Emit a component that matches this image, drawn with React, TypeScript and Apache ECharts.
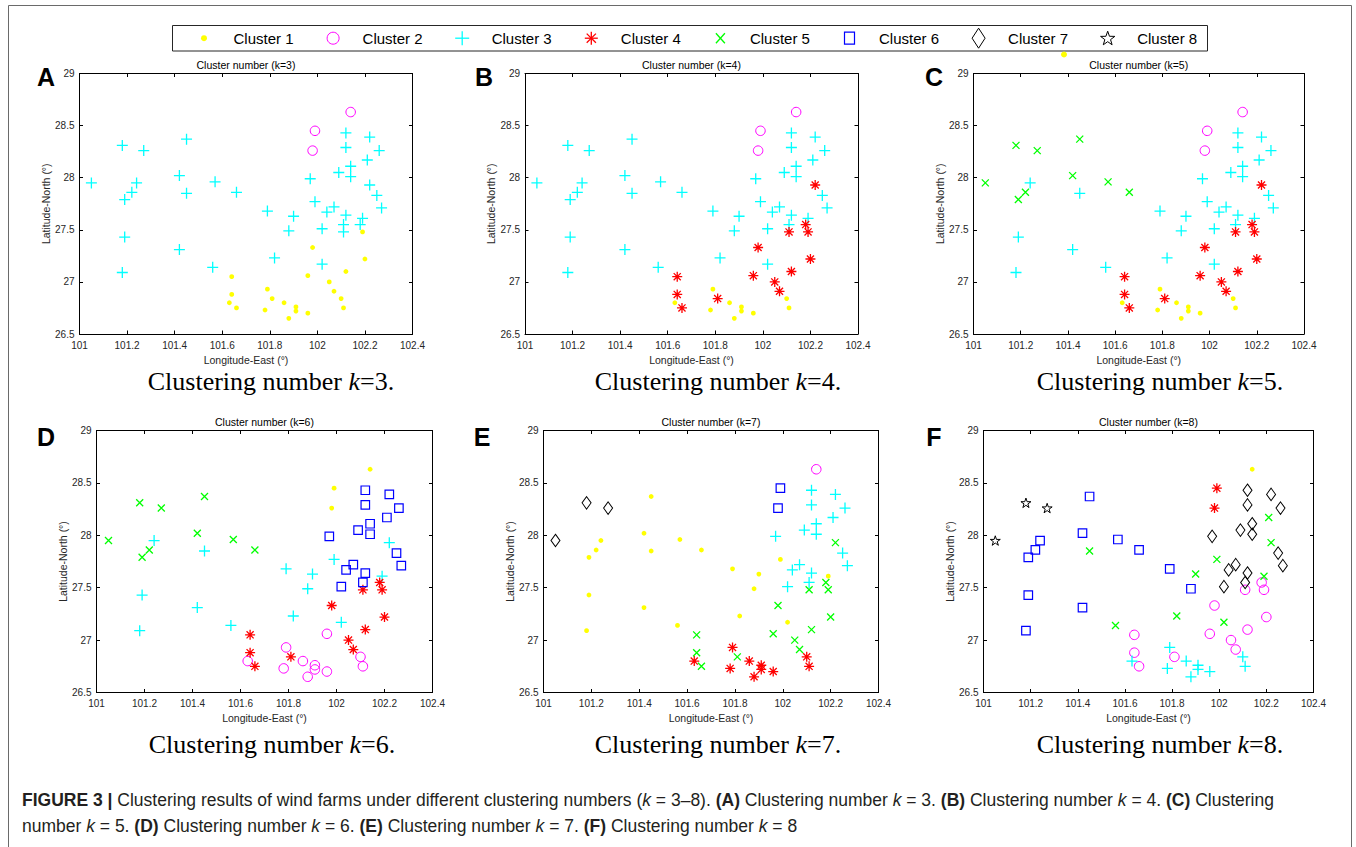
import React, { useEffect, useRef } from 'react';
import * as echarts from 'echarts';

// ---- data: wind farm coordinates (same farms in every panel) ----
const longitudes = [
  101.05, 101.18, 101.27, 101.19, 101.22, 101.24, 101.19, 101.18, 101.42, 101.45,
  101.45, 101.42, 101.57, 101.56, 101.66, 101.79, 101.82, 101.88, 101.9, 101.97,
  101.99, 102.02, 102.02, 102.04, 102.07, 102.09, 102.12, 102.12, 102.14, 102.14,
  102.12, 102.11, 102.11, 102.18, 102.19, 102.21, 102.22, 102.22, 102.25, 102.26,
  102.27, 102.14, 101.99, 101.98, 102.19, 101.98, 102.2, 102.12, 101.96, 101.64,
  102.05, 102.07, 101.79, 101.64, 101.81, 102.1, 101.63, 101.86, 101.66, 102.11,
  101.91, 101.91, 101.78, 101.96, 101.88,
];
const latitudes = [
  27.95, 28.31, 28.26, 27.79, 27.86, 27.95, 27.43, 27.09, 28.02, 28.37,
  27.85, 27.31, 27.96, 27.14, 27.86, 27.68, 27.23, 27.49, 27.63, 27.99,
  27.77, 27.17, 27.51, 27.67, 27.72, 28.05, 28.43, 28.29, 28.11, 28.01,
  27.64, 27.55, 27.48, 27.55, 27.61, 28.17, 28.39, 27.93, 27.83, 28.26,
  27.71, 28.63, 28.45, 28.26, 27.48, 27.33, 27.22, 27.1, 27.06, 27.05,
  27.0, 26.91, 26.93, 26.88, 26.84, 26.84, 26.8, 26.8, 26.75, 26.75,
  26.76, 26.72, 26.73, 26.7, 26.65,
];

// ---- cluster labels per clustering number ----
const clustersK3 = [
  3, 3, 3, 3, 3, 3, 3, 3, 3, 3,
  3, 3, 3, 3, 3, 3, 3, 3, 3, 3,
  3, 3, 3, 3, 3, 3, 3, 3, 3, 3,
  3, 3, 3, 3, 3, 3, 3, 3, 3, 3,
  3, 2, 2, 2, 1, 1, 1, 1, 1, 1,
  1, 1, 1, 1, 1, 1, 1, 1, 1, 1,
  1, 1, 1, 1, 1,
];
const clustersK4 = [
  3, 3, 3, 3, 3, 3, 3, 3, 3, 3,
  3, 3, 3, 3, 3, 3, 3, 3, 3, 3,
  3, 3, 3, 3, 3, 3, 3, 3, 3, 3,
  3, 3, 4, 4, 3, 3, 3, 4, 3, 3,
  3, 2, 2, 2, 4, 4, 4, 4, 4, 4,
  4, 4, 1, 4, 4, 1, 1, 1, 4, 1,
  1, 1, 1, 1, 1,
];
const clustersK5 = [
  5, 5, 5, 5, 5, 3, 3, 3, 5, 5,
  3, 3, 5, 3, 5, 3, 3, 3, 3, 3,
  3, 3, 3, 3, 3, 3, 3, 3, 3, 3,
  3, 3, 4, 4, 3, 3, 3, 4, 3, 3,
  3, 2, 2, 2, 4, 4, 4, 4, 4, 4,
  4, 4, 1, 4, 4, 1, 1, 1, 4, 1,
  1, 1, 1, 1, 1,
];
const clustersK6 = [
  5, 5, 5, 5, 5, 3, 3, 3, 5, 5,
  3, 3, 5, 3, 5, 3, 3, 3, 3, 6,
  3, 3, 6, 6, 6, 6, 6, 6, 6, 6,
  6, 6, 4, 4, 3, 6, 6, 3, 6, 6,
  6, 1, 1, 1, 4, 4, 4, 4, 2, 4,
  4, 4, 2, 4, 4, 2, 2, 2, 4, 2,
  2, 2, 2, 2, 2,
];
const clustersK7 = [
  7, 7, 7, 1, 1, 1, 1, 1, 1, 1,
  1, 1, 1, 1, 1, 1, 1, 1, 1, 3,
  1, 1, 3, 3, 3, 3, 3, 3, 3, 3,
  3, 3, 5, 5, 1, 3, 3, 5, 3, 3,
  3, 2, 6, 6, 5, 5, 5, 5, 5, 5,
  5, 5, 4, 5, 5, 4, 4, 4, 5, 4,
  4, 4, 4, 4, 4,
];
const clustersK8 = [
  8, 8, 8, 6, 6, 6, 6, 6, 6, 6,
  5, 6, 6, 5, 6, 6, 5, 6, 5, 7,
  5, 5, 7, 7, 7, 7, 7, 7, 7, 7,
  7, 7, 2, 2, 5, 5, 7, 5, 7, 7,
  7, 1, 4, 4, 2, 2, 2, 2, 2, 2,
  2, 2, 3, 2, 2, 3, 3, 3, 2, 3,
  3, 3, 3, 3, 3,
];

const kValues = [3, 4, 5, 6, 7, 8];
const panelLetters = ['A', 'B', 'C', 'D', 'E', 'F'];
const clusterNames = ['Cluster 1', 'Cluster 2', 'Cluster 3', 'Cluster 4', 'Cluster 5', 'Cluster 6', 'Cluster 7', 'Cluster 8'];
const X_MIN = 101;
const X_MAX = 102.4;
const X_STEP = 0.2;
const Y_MIN = 26.5;
const Y_MAX = 29;
const Y_STEP = 0.5;
const X_NAME = 'Longitude-East (°)';
const Y_NAME = 'Latitude-North (°)';

const clusterSets = [clustersK3, clustersK4, clustersK5, clustersK6, clustersK7, clustersK8];

// ---- layout ----
const GRIDS = [
  { left: 79.5, top: 73.5, width: 333, height: 260.5 },
  { left: 525, top: 73.5, width: 333, height: 260.5 },
  { left: 973.5, top: 73.5, width: 330.5, height: 260.5 },
  { left: 96.5, top: 430.5, width: 336, height: 262 },
  { left: 543.5, top: 430.5, width: 335, height: 262 },
  { left: 983.5, top: 430.5, width: 330, height: 262 },
];
const LETTER_POS = [
  [46, 77], [484, 77], [934, 77],
  [46, 437], [482, 437], [934, 437],
];
const CAPTION_POS = [
  [271, 381.5], [718, 381.5], [1160, 381.5],
  [272, 744.5], [718, 744.5], [1160, 744.5],
];

const FONT = '"Liberation Sans", Arial, Helvetica, sans-serif';
const SERIF = '"Liberation Serif", "Times New Roman", serif';
const AXIS_COLOR = '#262626';

const PLUS = 'path://M5,0L5,10M0,5L10,5';
const CROSS = 'path://M0,0L10,10M0,10L10,0';
const ASTER = 'path://M5,0L5,10M0,5L10,5M1.46,1.46L8.54,8.54M1.46,8.54L8.54,1.46';
const STAR = 'path://M10,0L12.245,6.91L19.511,6.91L13.633,11.18L15.878,18.09L10,13.82L4.122,18.09L6.367,11.18L0.489,6.91L7.755,6.91Z';

const MARKERS: Record<number, any> = {
  1: { symbol: 'circle', size: 4.8, color: '#ffff00', filled: true },
  2: { symbol: 'circle', size: 9.5, color: '#ff00ff', lw: 1 },
  3: { symbol: PLUS, size: 11, color: '#00ffff', lw: 1.3 },
  4: { symbol: ASTER, size: 10, color: '#ff0000', lw: 1.3 },
  5: { symbol: CROSS, size: 7, color: '#00ff00', lw: 1.3 },
  6: { symbol: 'rect', size: 8.5, color: '#0000ff', lw: 1.2 },
  7: { symbol: 'diamond', size: [9, 12.5], color: '#000000', lw: 1 },
  8: { symbol: STAR, size: 10, color: '#000000', lw: 1 },
};

const fmt = (v: number) => String(Math.round(v * 10) / 10);

function starPoints(cx: number, cy: number, R: number, r: number) {
  const pts: number[][] = [];
  for (let i = 0; i < 10; i++) {
    const a = (-90 + 36 * i) * Math.PI / 180;
    const rad = i % 2 === 0 ? R : r;
    pts.push([cx + rad * Math.cos(a), cy + rad * Math.sin(a)]);
  }
  return pts;
}

function legendGraphics() {
  const els: any[] = [];
  els.push({
    type: 'rect', shape: { x: 172.5, y: 25.5, width: 1035, height: 25.5 },
    style: { fill: '#ffffff', stroke: '#262626', lineWidth: 1 }, z: 10,
  });
  const cy = 38.2;
  clusterNames.forEach((name, i) => {
    const sx = 204 + i * 129.1;
    const c = i + 1;
    const m = MARKERS[c];
    const line = (x1: number, y1: number, x2: number, y2: number) => ({
      type: 'line', shape: { x1, y1, x2, y2 }, style: { stroke: m.color, lineWidth: 1.3 }, z: 11,
    });
    if (c === 1) {
      els.push({ type: 'circle', shape: { cx: sx, cy, r: 3 }, style: { fill: m.color }, z: 11 });
    } else if (c === 2) {
      els.push({ type: 'circle', shape: { cx: sx, cy, r: 6 }, style: { fill: 'none', stroke: m.color, lineWidth: 1 }, z: 11 });
    } else if (c === 3) {
      els.push(line(sx - 7, cy, sx + 7, cy), line(sx, cy - 7, sx, cy + 7));
    } else if (c === 4) {
      const d = 4.6;
      els.push(line(sx - 6.5, cy, sx + 6.5, cy), line(sx, cy - 6.5, sx, cy + 6.5), line(sx - d, cy - d, sx + d, cy + d), line(sx - d, cy + d, sx + d, cy - d));
    } else if (c === 5) {
      els.push(line(sx - 4.5, cy - 5, sx + 4.5, cy + 5), line(sx - 4.5, cy + 5, sx + 4.5, cy - 5));
    } else if (c === 6) {
      els.push({ type: 'rect', shape: { x: sx - 5, y: cy - 6, width: 10, height: 12 }, style: { fill: 'none', stroke: m.color, lineWidth: 1.2 }, z: 11 });
    } else if (c === 7) {
      els.push({ type: 'polygon', shape: { points: [[sx, cy - 10], [sx + 6.5, cy], [sx, cy + 10], [sx - 6.5, cy]] }, style: { fill: 'none', stroke: m.color, lineWidth: 1 }, z: 11 });
    } else {
      els.push({ type: 'polygon', shape: { points: starPoints(sx, cy + 0.5, 7.5, 3) }, style: { fill: 'none', stroke: m.color, lineWidth: 1 }, z: 11 });
    }
    els.push({
      type: 'text', z: 11,
      style: {
        text: name, x: sx + 29.5, y: cy, fontSize: 15, fontFamily: FONT, fill: '#000000',
        align: 'left', textAlign: 'left', verticalAlign: 'middle', textVerticalAlign: 'middle',
      },
    });
  });
  return els;
}

function buildOption() {
  const xAxis: any[] = [];
  const yAxis: any[] = [];
  const lineStyle = { color: '#000000', width: 1 };
  const tick = { show: true, inside: true, length: 3.5, lineStyle };
  GRIDS.forEach((_, p) => {
    xAxis.push({
      type: 'value', gridIndex: p, position: 'bottom', min: X_MIN, max: X_MAX, interval: X_STEP,
      name: X_NAME, nameLocation: 'middle', nameGap: 20,
      nameTextStyle: { fontSize: 10.5, color: AXIS_COLOR, fontFamily: FONT },
      axisLine: { show: true, onZero: false, lineStyle }, axisTick: tick,
      axisLabel: { show: true, margin: 6, fontSize: 10, color: AXIS_COLOR, fontFamily: FONT, formatter: fmt },
      splitLine: { show: false },
    });
    yAxis.push({
      type: 'value', gridIndex: p, position: 'left', min: Y_MIN, max: Y_MAX, interval: Y_STEP,
      name: Y_NAME, nameLocation: 'middle', nameGap: 28, nameRotate: 90,
      nameTextStyle: { fontSize: 10.5, color: AXIS_COLOR, fontFamily: FONT },
      axisLine: { show: true, onZero: false, lineStyle }, axisTick: tick,
      axisLabel: { show: true, margin: 5, fontSize: 10, color: AXIS_COLOR, fontFamily: FONT, formatter: fmt },
      splitLine: { show: false },
    });
  });
  GRIDS.forEach((_, p) => {
    xAxis.push({
      type: 'value', gridIndex: p, position: 'top', min: X_MIN, max: X_MAX, interval: X_STEP,
      axisLine: { show: true, onZero: false, lineStyle }, axisTick: tick,
      axisLabel: { show: false }, splitLine: { show: false },
    });
    yAxis.push({
      type: 'value', gridIndex: p, position: 'right', min: Y_MIN, max: Y_MAX, interval: Y_STEP,
      axisLine: { show: true, onZero: false, lineStyle }, axisTick: tick,
      axisLabel: { show: false }, splitLine: { show: false },
    });
  });

  const series: any[] = [];
  clusterSets.forEach((labels, p) => {
    for (let c = 1; c <= 8; c++) {
      const data: number[][] = [];
      labels.forEach((l, i) => { if (l === c) data.push([longitudes[i], latitudes[i]]); });
      if (!data.length) continue;
      const m = MARKERS[c];
      series.push({
        type: 'scatter', name: clusterNames[c - 1], xAxisIndex: p, yAxisIndex: p, data,
        symbol: m.symbol, symbolSize: m.size, symbolKeepAspect: c === 8,
        itemStyle: m.filled
          ? { color: m.color, opacity: 1 }
          : { color: 'transparent', borderColor: m.color, borderWidth: m.lw, opacity: 1 },
        emphasis: { disabled: true }, silent: true,
      });
    }
  });

  const graphic: any[] = [];
  // outer frame
  graphic.push({
    type: 'rect', shape: { x: 8.5, y: 5.5, width: 1343, height: 900 },
    style: { fill: 'none', stroke: '#6a6a6a', lineWidth: 1 }, z: 1,
  });
  graphic.push(...legendGraphics());
  // stray marker above panel C
  graphic.push({ type: 'circle', shape: { cx: 1064, cy: 54.5, r: 3 }, style: { fill: '#ffff00' }, z: 12 });

  GRIDS.forEach((g, p) => {
    graphic.push({
      type: 'text', z: 5,
      style: {
        text: `Cluster number (k=${kValues[p]})`, x: g.left + g.width / 2, y: g.top - 9,
        fontSize: 10.5, fontFamily: FONT, fill: '#000000',
        align: 'center', textAlign: 'center', verticalAlign: 'middle', textVerticalAlign: 'middle',
      },
    });
    graphic.push({
      type: 'text', z: 5,
      style: {
        text: panelLetters[p], x: LETTER_POS[p][0], y: LETTER_POS[p][1],
        fontSize: 25, fontWeight: 'bold', fontFamily: FONT, fill: '#000000',
        align: 'center', textAlign: 'center', verticalAlign: 'middle', textVerticalAlign: 'middle',
      },
    });
    graphic.push({
      type: 'text', z: 5,
      style: {
        text: `{r|Clustering number }{i|k}{r|=${kValues[p]}.}`,
        x: CAPTION_POS[p][0], y: CAPTION_POS[p][1],
        fontSize: 26, fontFamily: SERIF, fill: '#000000',
        align: 'center', textAlign: 'center', verticalAlign: 'middle', textVerticalAlign: 'middle',
        rich: {
          r: { fontSize: 26, lineHeight: 24, fontFamily: SERIF, fill: '#000000' },
          i: { fontSize: 26, lineHeight: 24, fontFamily: SERIF, fontStyle: 'italic', fill: '#000000' },
        },
      },
    });
  });

  const CAP = 17.5;
  const capRich = {
    b: { fontSize: CAP, fontFamily: FONT, fontWeight: 'bold', fill: '#231f20' },
    r: { fontSize: CAP, fontFamily: FONT, fill: '#231f20' },
    i: { fontSize: CAP, fontFamily: FONT, fontStyle: 'italic', fill: '#231f20' },
  };
  const line1 = '{b|FIGURE 3 | }{r|Clustering results of wind farms under different clustering numbers (}{i|k }{r|= 3–8). }{b|(A) }{r|Clustering number }{i|k }{r|= 3. }{b|(B) }{r|Clustering number }{i|k }{r|= 4. }{b|(C) }{r|Clustering}';
  const line2 = '{r|number }{i|k }{r|= 5. }{b|(D) }{r|Clustering number }{i|k }{r|= 6. }{b|(E) }{r|Clustering number }{i|k }{r|= 7. }{b|(F) }{r|Clustering number }{i|k }{r|= 8}';
  [[line1, 800], [line2, 826]].forEach(([t, y]) => {
    graphic.push({
      type: 'text', z: 5,
      style: {
        text: t, x: 22, y, fontSize: CAP, fontFamily: FONT, fill: '#231f20',
        align: 'left', textAlign: 'left', verticalAlign: 'middle', textVerticalAlign: 'middle',
        rich: capRich,
      },
    });
  });

  return {
    animation: false,
    backgroundColor: '#ffffff',
    grid: GRIDS.map((g) => ({ ...g, containLabel: false })),
    xAxis,
    yAxis,
    series,
    graphic,
  };
}

export default function App() {
  const ref = useRef<HTMLDivElement>(null);
  useEffect(() => {
    if (!ref.current) return;
    const chart = echarts.init(ref.current, undefined, { renderer: 'svg' });
    chart.setOption(buildOption() as any);
    return () => chart.dispose();
  }, []);
  return (
    <div
      ref={ref}
      style={{ position: 'fixed', left: 0, top: 0, width: 1356, height: 847, background: '#ffffff' }}
    />
  );
}
